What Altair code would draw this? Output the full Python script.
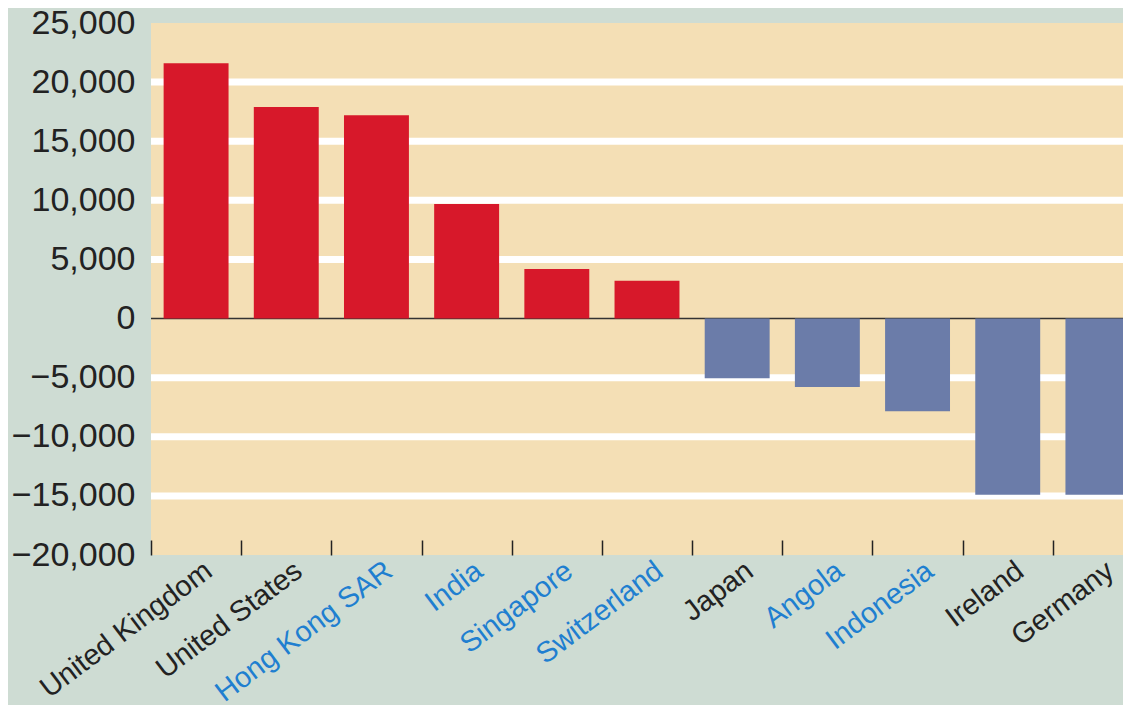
import altair as alt
import pandas as pd

countries = ["United Kingdom", "United States", "Hong Kong SAR", "India", "Singapore",
             "Switzerland", "Japan", "Angola", "Indonesia", "Ireland", "Germany"]
values = [21600, 17900, 17200, 9700, 4200, 3200, -5050, -5800, -7850, -14900, -14900]
blue_labels = ["Hong Kong SAR", "India", "Singapore", "Switzerland", "Angola", "Indonesia"]
y_ticks = [-20000, -15000, -10000, -5000, 0, 5000, 10000, 15000, 20000, 25000]
grid_values = [-15000, -10000, -5000, 5000, 10000, 15000, 20000]

bars_df = pd.DataFrame({"country": countries, "value": values})
grid_df = pd.DataFrame({"v": grid_values})
zero_df = pd.DataFrame({"v": [0]})

RED = "#d7182a"
BLUE = "#6b7ca9"
LABEL_BLUE = "#1f7fd0"
DARK = "#222222"

yscale = alt.Scale(domain=[-20000, 25000], nice=False, zero=False)
xscale = alt.Scale(domain=countries, range=[0, 992], paddingInner=0.28, paddingOuter=0.14)
half_step = 992 / 11 / 2

blue_list = "[" + ",".join("'" + c + "'" for c in blue_labels) + "]"

grid = alt.Chart(grid_df).mark_rule(color="white", strokeWidth=7).encode(
    y=alt.Y("v:Q", scale=yscale)
)

zero = alt.Chart(zero_df).mark_rule(color="#333333", strokeWidth=1.5).encode(
    y=alt.Y("v:Q", scale=yscale)
)

bars = alt.Chart(bars_df).mark_bar(clip=True).encode(
    x=alt.X("country:N", sort=countries, scale=xscale,
            axis=alt.Axis(title=None, domain=False,
                          tickSize=15, offset=-15, tickColor=DARK, tickWidth=1.5,
                          tickOffset=-half_step,
                          labelAngle=-37, labelAlign="right", labelBaseline="middle",
                          labelPadding=12, labelOffset=half_step + 12,
                          labelFont="Liberation Sans", labelLimit=400,
                          labelFontSize=29,
                          labelColor=alt.condition(f"indexof({blue_list}, datum.value) >= 0",
                                                   alt.value(LABEL_BLUE), alt.value(DARK)))),
    y=alt.Y("value:Q", scale=yscale,
            axis=alt.Axis(title=None, values=y_ticks, grid=False, domain=False, ticks=False,
                          format=",d", labelPadding=16, labelFont="Liberation Sans",
                          labelFontSize=34, labelColor=DARK)),
    color=alt.condition("datum.value >= 0", alt.value(RED), alt.value(BLUE)),
)

chart = alt.layer(grid, zero, bars).properties(
    width=980, height=532,
    background="#cedcd3",
    padding={"left": 143, "top": 15, "right": -8, "bottom": 150},
    autosize=alt.AutoSizeParams(type="none"),
).configure_view(fill="#f4dfb5", stroke=None)

chart.save("out.html", embed_options={"renderer": "svg", "actions": False})
